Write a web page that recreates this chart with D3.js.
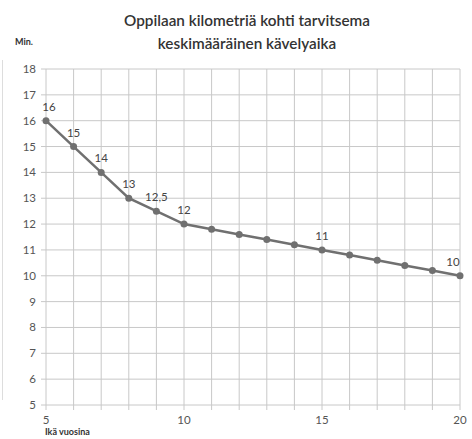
<!DOCTYPE html>
<html><head><meta charset="utf-8">
<script src="https://cdn.jsdelivr.net/npm/d3@7"></script>
<style>body{margin:0;background:#fff;}svg{display:block;font-family:Lato,"Open Sans",sans-serif;}</style>
</head><body>
<svg id="c" width="472" height="439"></svg>
<script>
const ages = [5,6,7,8,9,10,11,12,13,14,15,16,17,18,19,20];
const minutes = [16,15,14,13,12.5,12,11.8,11.6,11.4,11.2,11,10.8,10.6,10.4,10.2,10];
const labelled = {5:"16",6:"15",7:"14",8:"13",9:"12,5",10:"12",15:"11",20:"10"};
const yTicks = [5,6,7,8,9,10,11,12,13,14,15,16,17,18];
const xTickLabels = [5,10,15,20];
const title = ["Oppilaan kilometriä kohti tarvitsema","keskimääräinen kävelyaika"];

const svg = d3.select("#c");
const x = d3.scaleLinear().domain([5,20]).range([46,460]);
const y = d3.scaleLinear().domain([5,18]).range([405,69]);

svg.append("line").attr("x1",2.5).attr("x2",2.5).attr("y1",60).attr("y2",400).attr("stroke","#ddd");

const g = svg.append("g");
g.selectAll(".h").data(yTicks).join("line")
  .attr("x1",41).attr("x2",x(20)).attr("y1",d=>y(d)).attr("y2",d=>y(d))
  .attr("stroke","#c8c8c8").attr("stroke-width",1);
g.selectAll(".v").data(ages).join("line")
  .attr("x1",d=>x(d)).attr("x2",d=>x(d)).attr("y1",y(18)).attr("y2",y(5)+5)
  .attr("stroke","#c8c8c8").attr("stroke-width",1);

g.selectAll(".yl").data(yTicks).join("text")
  .attr("x",36).attr("y",d=>y(d)+4).attr("text-anchor","end")
  .attr("font-size",11.5).attr("fill","#555").text(d=>d);
g.selectAll(".xl").data(xTickLabels).join("text")
  .attr("x",d=>x(d)).attr("y",424).attr("text-anchor","middle")
  .attr("font-size",11.5).attr("fill","#555").text(d=>d);

const pts = ages.map((a,i)=>[a,minutes[i]]);
g.append("path").datum(pts)
  .attr("d",d3.line().x(d=>x(d[0])).y(d=>y(d[1])))
  .attr("fill","none").attr("stroke","#707070").attr("stroke-width",2.5);
g.selectAll(".p").data(pts).join("circle")
  .attr("cx",d=>x(d[0])).attr("cy",d=>y(d[1])).attr("r",3.5).attr("fill","#707070");
g.selectAll(".dl").data(pts.filter(d=>labelled[d[0]])).join("text")
  .attr("x",d=>x(d[0]) + (d[0]===20?-7:d[0]===5?3:0))
  .attr("y",d=>y(d[1])-10).attr("text-anchor","middle")
  .attr("font-size",11.5).attr("fill","#444").text(d=>labelled[d[0]]);

svg.selectAll(".t").data(title).join("text")
  .attr("x",247).attr("y",(d,i)=>26+i*23).attr("text-anchor","middle")
  .attr("font-size",15.3).attr("font-weight",600).attr("fill","#333").text(d=>d);
svg.append("text").attr("x",15).attr("y",45).attr("font-size",9).attr("font-weight",700).attr("fill","#333").text("Min.");
svg.append("text").attr("x",45).attr("y",435).attr("font-size",9).attr("font-weight",700).attr("fill","#333").text("Ikä vuosina");
</script>
</body></html>
